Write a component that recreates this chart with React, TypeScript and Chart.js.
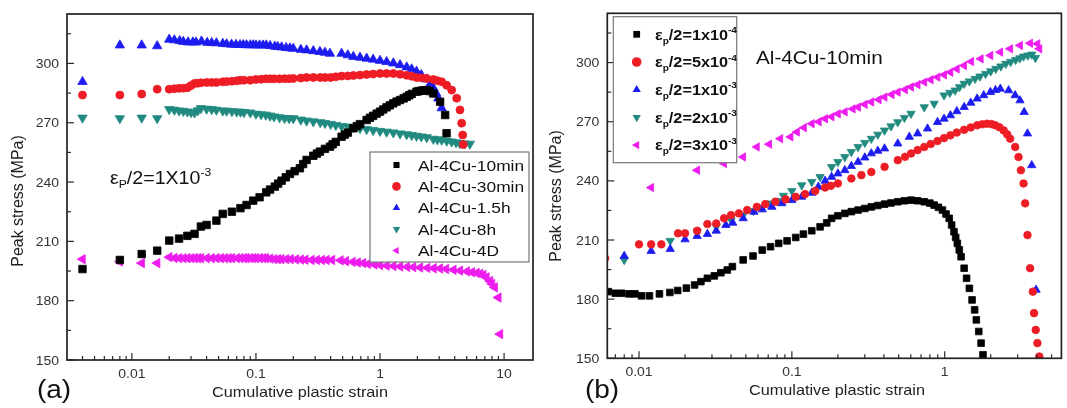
import React, { useEffect, useRef } from 'react';
import { Chart, registerables } from 'chart.js';
Chart.register(...registerables);

type Pt = [number, number];

// ---------- Panel (a): εp/2 = 1x10^-3, different ageing times ----------
const a10min: Pt[] = [
  [0.004, 196], [0.008, 200.6], [0.012, 203.6], [0.016, 205.3], [0.02, 210.4], [0.024, 211.4], [0.028, 212.8],
  [0.032, 213.8], [0.036, 217.5], [0.04, 218.3], [0.048, 220.5], [0.054, 223.9], [0.064, 225], [0.075, 226.8],
  [0.084, 228.4], [0.095, 230.6], [0.107, 232.3], [0.121, 234.8], [0.142, 237.7], [0.161, 240.7], [0.188, 244.1],
  [0.226, 247], [0.256, 251.2], [0.29, 253.3], [0.328, 255.4], [0.36, 256.8], [0.395, 257.9], [0.44, 260.3],
  [0.49, 262.9], [0.55, 265], [0.61, 267.2], [0.69, 269.3], [0.78, 271.4], [0.88, 273.5], [1.0, 275.6],
  [1.13, 277.8], [1.28, 279.8], [1.45, 281.5], [1.64, 283.1], [1.8, 284.6], [1.97, 285.7], [2.15, 286.2],
  [2.38, 286.5], [2.69, 284.8], [3.05, 280.6], [3.35, 273.9], [3.44, 264.7],
  [0.13, 236.2], [0.151, 239.2], [0.174, 242.4], [0.205, 245.5], [0.24, 249.1], [0.31, 254.4], [0.415, 259.1],
  [0.52, 264], [0.65, 268.3], [0.83, 272.5], [0.94, 274.6], [1.06, 276.7], [1.2, 278.8], [1.36, 280.7], [1.55, 282.3],
  [1.72, 283.9], [2.05, 286], [2.25, 286.4], [2.52, 286],
];
const a30min: Pt[] = [
  [0.004, 284], [0.008, 284], [0.012, 284.5], [0.016, 287], [0.02, 287], [0.024, 287.4], [0.028, 287.7],
  [0.032, 289.9], [0.036, 290.2], [0.04, 290.4], [0.048, 290.4], [0.054, 290.7], [0.064, 291], [0.075, 291.5],
  [0.09, 291.5], [0.1, 291.9], [0.12, 292.2], [0.14, 292.2], [0.17, 292.3], [0.2, 292.4], [0.256, 292.9],
  [0.33, 292.9], [0.4, 292.9], [0.49, 293.6], [0.61, 293.9], [0.78, 294.4], [1.0, 294.9], [1.28, 294.9],
  [1.64, 294], [1.97, 292.9], [2.38, 292.4], [2.69, 291.9], [3.14, 290.7], [3.44, 289], [3.78, 286.5],
  [4.15, 282.4], [4.41, 276.5], [4.55, 269.8], [4.64, 263.8], [4.69, 259],
  [0.022, 287.2], [0.026, 287.5], [0.03, 288.8], [0.034, 290], [0.044, 290.4], [0.058, 290.8], [0.07, 291.2],
  [0.08, 291.5], [0.11, 292], [0.13, 292.2], [0.155, 292.2], [0.185, 292.3], [0.23, 292.6], [0.29, 292.9],
  [0.36, 292.9], [0.44, 293.2], [0.55, 293.7], [0.69, 294.1], [0.88, 294.6], [1.13, 294.9], [1.45, 294.5],
  [1.8, 293.5], [2.15, 292.7], [2.9, 291.3],
];
const a1h5: Pt[] = [
  [0.004, 290.7], [0.008, 309.2], [0.012, 309.2], [0.016, 308.8], [0.02, 312.1], [0.0243, 311.4], [0.0284, 310.7],
  [0.0329, 310.7], [0.0364, 311.2], [0.0405, 310.5], [0.048, 310.3], [0.054, 310], [0.0636, 309.6], [0.0744, 309.4],
  [0.084, 309.3], [0.095, 309.3], [0.107, 309.2], [0.121, 309.2], [0.142, 308.6], [0.161, 308.2], [0.188, 307.7],
  [0.2, 307.5], [0.256, 306.7], [0.328, 305.9], [0.395, 305], [0.49, 305], [0.61, 303.4], [0.78, 302.5],
  [1.0, 301.4], [1.28, 300.1], [1.64, 298.1], [1.97, 295.9], [2.38, 292], [2.69, 287.5], [2.95, 282.4], [3.14, 277.4],
  [0.022, 311.8], [0.026, 311], [0.031, 310.7], [0.044, 310.4], [0.058, 309.8], [0.069, 309.5], [0.079, 309.4],
  [0.09, 309.3], [0.1, 309.2], [0.114, 309.2], [0.13, 308.9], [0.15, 308.4], [0.175, 307.9], [0.23, 307],
  [0.29, 306.3], [0.36, 305.5], [0.55, 304.2], [0.69, 303], [0.88, 302], [1.13, 300.8], [1.45, 299.2],
  [1.8, 297.1], [2.15, 294.2], [2.55, 289.8], [2.83, 285],
];
const a8h: Pt[] = [
  [0.004, 272.5], [0.008, 272.2], [0.012, 272.5], [0.016, 272.2], [0.02, 276.8], [0.024, 276.1], [0.028, 275.6],
  [0.032, 275.1], [0.036, 277.3], [0.04, 277], [0.048, 276.5], [0.054, 276.1], [0.064, 275.8], [0.075, 275.5],
  [0.09, 275.1], [0.1, 274.5], [0.12, 274], [0.14, 273.1], [0.17, 272.3], [0.2, 272.2], [0.256, 271], [0.33, 270.2],
  [0.4, 269.3], [0.49, 268.3], [0.61, 267.7], [0.78, 266.7], [1.0, 265.8], [1.28, 265], [1.64, 264.1], [1.97, 263.3],
  [2.38, 262.6], [2.69, 261.8], [3.14, 261.3], [3.78, 260.4], [4.4, 259.6], [5.3, 259.3],
  [0.022, 276.5], [0.026, 275.9], [0.03, 275.3], [0.034, 276.2], [0.044, 276.8], [0.058, 276], [0.07, 275.6],
  [0.08, 275.3], [0.11, 274.2], [0.13, 273.5], [0.155, 272.7], [0.185, 272.2], [0.23, 271.5], [0.29, 270.6],
  [0.36, 269.8], [0.44, 268.8], [0.55, 268], [0.69, 267.2], [0.88, 266.2], [1.13, 265.4], [1.45, 264.5],
  [1.8, 263.7], [2.15, 263], [2.9, 261.5], [3.45, 260.8], [4.1, 260], [4.8, 259.4],
];
const a4D: Pt[] = [
  [0.004, 201], [0.008, 199.8], [0.012, 199], [0.016, 199], [0.02, 202], [0.022, 201.6], [0.024, 201.5],
  [0.026, 201.5], [0.028, 201.5], [0.03, 201.5], [0.032, 201.5], [0.034, 201.5], [0.036, 201.5], [0.04, 201.5],
  [0.044, 201.5], [0.048, 201.5], [0.052, 201.5], [0.056, 201.5], [0.06, 201.5], [0.064, 201.5], [0.07, 201.5],
  [0.075, 201.5], [0.08, 201.5], [0.084, 201.5], [0.09, 201.5], [0.095, 201.5], [0.1, 201.5], [0.107, 201.5],
  [0.114, 201.5], [0.12, 201.5], [0.13, 201.3], [0.14, 201], [0.15, 201], [0.16, 201], [0.175, 201], [0.19, 201],
  [0.21, 200.9], [0.23, 200.8], [0.25, 200.7], [0.28, 200.6], [0.31, 200.6], [0.34, 200.6], [0.37, 200.6],
  [0.41, 200.6], [0.48, 200.4], [0.53, 200], [0.6, 199.6], [0.66, 199.3], [0.73, 199], [0.8, 198.6], [0.9, 198.3],
  [1.0, 198], [1.13, 197.7], [1.28, 197.5], [1.45, 197.3], [1.65, 197.1], [1.85, 197], [2.1, 196.8], [2.4, 196.6],
  [2.7, 196.4], [3.04, 196.3], [3.4, 196], [3.9, 195.6], [4.4, 195.2], [5.0, 194.8], [5.5, 194.4], [6.0, 194],
  [6.4, 193.6], [6.8, 193], [7.2, 191.8], [7.7, 190], [8.0, 188.5], [8.4, 186.7], [8.99, 181.6], [9.27, 163.1],
];

// ---------- Panel (b): Al-4Cu-10min, different strain amplitudes ----------
const b1e4: Pt[] = [
  [0.0063, 183.8], [0.007, 183], [0.0077, 183], [0.0086, 182.7], [0.0094, 182.7], [0.0104, 181.7], [0.0117, 181.7],
  [0.0136, 182.7], [0.0159, 183.4], [0.0179, 184.4], [0.0204, 185.6], [0.0231, 187.2], [0.0254, 188.9], [0.028, 190.6],
  [0.0311, 191.8], [0.0343, 193.4], [0.0378, 194.8], [0.0408, 196.5], [0.048, 199.9], [0.0557, 201.9], [0.064, 204.9],
  [0.0725, 206.6], [0.082, 208.3], [0.093, 209.6], [0.106, 211.3], [0.119, 213], [0.135, 214.7], [0.153, 216.7],
  [0.169, 218.7], [0.182, 221], [0.222, 223.5], [0.271, 225.2], [0.331, 226.8], [0.404, 228.2], [0.493, 229.4],
  [0.602, 230.2], [0.735, 229.4], [0.853, 227.7], [0.966, 225.2], [1.07, 221], [1.15, 214.2], [1.21, 208.3],
  [1.28, 201.5], [1.34, 195.7], [1.39, 190.6], [1.45, 185.5], [1.51, 179.6], [1.57, 174.6], [1.61, 169.5],
  [1.67, 163.6], [1.73, 157.7], [1.78, 151.8],
  [0.2, 222.3], [0.245, 224.4], [0.3, 226], [0.365, 227.5], [0.445, 228.8], [0.545, 229.9], [0.665, 229.9],
  [0.8, 228.7], [0.91, 226.6], [1.02, 223.2], [1.11, 217.6], [1.18, 211.3], [1.245, 205],
];
const b5e4: Pt[] = [
  [0.006, 200.7], [0.01, 207.8], [0.012, 207.8], [0.014, 207.8], [0.018, 213.4], [0.02, 213.4], [0.024, 214.7],
  [0.028, 218.1], [0.032, 218.4], [0.036, 221], [0.04, 222.6], [0.045, 223.5], [0.051, 225.2], [0.059, 226.8],
  [0.067, 228.2], [0.078, 229.4], [0.091, 230.6], [0.106, 231.9], [0.122, 233.3], [0.142, 234.9], [0.165, 236.6],
  [0.18, 237.5], [0.2, 238.7], [0.245, 241.2], [0.285, 242.9], [0.331, 244.5], [0.404, 247.1], [0.493, 250.5],
  [0.602, 253.9], [0.735, 257.2], [0.897, 260.2], [1.09, 263.1], [1.34, 265.9], [1.63, 268.2], [1.89, 269],
  [2.14, 268.2], [2.43, 265.6], [2.68, 261.4], [2.89, 257.2], [3.04, 252.1], [3.15, 245.4], [3.28, 238.7],
  [3.36, 228.6], [3.48, 212.5], [3.62, 195.7], [3.77, 183.8], [3.84, 172.9], [3.94, 164.4], [4.04, 157.7], [4.16, 150.9],
  [0.55, 252.2], [0.665, 255.6], [0.81, 258.7], [0.99, 261.7], [1.2, 264.5], [1.48, 267.1], [1.76, 268.7],
  [2.02, 268.8], [2.28, 267.2], [2.56, 263.6],
];
const b1e3: Pt[] = [
  [0.008, 201.9], [0.012, 204.4], [0.016, 205.4], [0.02, 210.3], [0.024, 212], [0.028, 213], [0.032, 214.7],
  [0.037, 217.6], [0.041, 218.7], [0.048, 221], [0.0565, 224.3], [0.064, 225.5], [0.074, 226.8], [0.086, 228.6],
  [0.1, 230.2], [0.116, 231.9], [0.135, 233.9], [0.149, 237], [0.182, 242], [0.222, 245.4], [0.271, 249.6],
  [0.331, 253.9], [0.404, 256.4], [0.493, 258.9], [0.587, 262.3], [0.665, 264], [0.772, 266.5], [0.897, 269.8],
  [1.09, 273.2], [1.34, 277.4], [1.63, 281.7], [1.99, 285], [2.31, 286.7], [2.62, 285.9], [2.89, 283.4],
  [3.11, 280.8], [3.31, 274.9], [3.48, 264], [3.71, 247.9], [3.96, 184.7],
  [0.165, 240], [0.2, 243.7], [0.245, 247.5], [0.3, 251.8], [0.365, 255.2], [0.99, 271.5], [1.2, 275.3],
  [1.48, 279.6], [1.8, 283.4], [2.15, 286],
];
const b2e3: Pt[] = [
  [0.008, 199.9], [0.016, 209.6], [0.024, 214.2], [0.032, 216.7], [0.04, 220.1], [0.048, 222.6], [0.056, 224.8],
  [0.064, 226.5], [0.072, 228.6], [0.08, 229.9], [0.088, 232.5], [0.1, 234.9], [0.116, 237.8], [0.135, 239.5],
  [0.153, 242], [0.182, 247.1], [0.222, 252.1], [0.271, 257.2], [0.331, 261.4], [0.404, 265.6], [0.493, 269.8],
  [0.602, 274.1], [0.735, 277.4], [0.853, 279.2], [0.99, 283.4], [1.17, 285.9], [1.34, 289.3], [1.58, 291.8],
  [1.85, 294.3], [2.16, 296.9], [2.51, 299.4], [2.91, 301.4], [3.28, 303.1], [3.71, 304.1], [3.92, 302.4],
  [0.2, 249.6], [0.245, 254.7], [0.3, 259.3], [0.365, 263.5], [0.445, 267.7], [0.545, 272], [1.08, 284.7],
  [1.25, 287.6], [1.45, 290.5], [1.7, 293], [2.0, 295.6], [2.33, 298.1], [2.7, 300.4], [3.1, 302.2], [3.5, 303.6],
];
const b3e3: Pt[] = [
  [0.012, 236.6], [0.024, 245.4], [0.036, 248.8], [0.048, 252.1], [0.059, 257.2], [0.071, 258.6], [0.084, 261.4],
  [0.098, 262.3], [0.108, 264.8], [0.12, 267], [0.135, 269], [0.15, 270], [0.165, 271.5], [0.182, 272.5], [0.2, 274],
  [0.222, 275], [0.25, 276.5], [0.271, 277.4], [0.3, 278.8], [0.331, 280], [0.37, 281.2], [0.404, 282.5],
  [0.45, 283.8], [0.493, 285], [0.55, 286.3], [0.602, 287.6], [0.665, 288.8], [0.735, 290.1], [0.81, 291.3],
  [0.897, 292.6], [0.99, 293.8], [1.09, 295.1], [1.2, 296.8], [1.34, 298.5], [1.49, 300.5], [1.72, 301.9],
  [1.99, 303.6], [2.31, 305.3], [2.68, 307], [3.11, 308.7], [3.62, 309.8], [4.04, 309.5], [4.16, 307],
];

const aLabels = ['Al-4Cu-10min', 'Al-4Cu-30min', 'Al-4Cu-1.5h', 'Al-4Cu-8h', 'Al-4Cu-4D'];
const bAmplitudes = ['1x10', '5x10', '1x10', '2x10', '3x10'];
const bExponents = ['-4', '-4', '-3', '-3', '-3'];

// ticks
const yMajor = [150, 180, 210, 240, 270, 300];
const yMinor = [165, 195, 225, 255, 285, 315];
const xMajor = [0.01, 0.1, 1, 10];
const xMajorLabels = ['0.01', '0.1', '1', '10'];
const decades = [0.001, 0.01, 0.1, 1, 10];
const minorFactors = [2, 3, 4, 5, 6, 7, 8, 9];

const COLORS = ['#000000', '#ee1c24', '#1c1cf0', '#218a80', '#ee1cee'];
const STYLES = ['rect', 'circle', 'triangle', 'triangle', 'triangle'];
const ROTS = [0, 0, 0, 180, 270];

const FONT = '"Liberation Sans", Arial, Helvetica, sans-serif';
const STRETCH = 1.12;

type Part = { t: string; k?: 'sub' | 'sup' };

function drawParts(ctx: CanvasRenderingContext2D, parts: Part[], x: number, y: number, size: number, weight: string, align: 'left' | 'center' | 'right', color = '#111') {
  ctx.save();
  ctx.translate(x, y);
  ctx.scale(STRETCH, 1);
  ctx.fillStyle = color;
  ctx.textBaseline = 'alphabetic';
  ctx.textAlign = 'left';
  const fonts = parts.map((p) => `${weight} ${p.k ? size * 0.62 : size}px ${FONT}`);
  const widths = parts.map((p, i) => { ctx.font = fonts[i]; return ctx.measureText(p.t).width; });
  const total = widths.reduce((s, w) => s + w, 0);
  let cx = align === 'center' ? -total / 2 : align === 'right' ? -total : 0;
  parts.forEach((p, i) => {
    ctx.font = fonts[i];
    const dy = p.k === 'sub' ? size * 0.28 : p.k === 'sup' ? -size * 0.45 : 0;
    ctx.fillText(p.t, cx, dy);
    cx += widths[i];
  });
  ctx.restore();
}

function drawMarker(ctx: CanvasRenderingContext2D, style: string, rot: number, x: number, y: number, r: number, color: string) {
  ctx.save();
  ctx.fillStyle = color;
  ctx.beginPath();
  if (style === 'rect') {
    const s = r * Math.SQRT1_2;
    ctx.rect(x - s, y - s, 2 * s, 2 * s);
  } else if (style === 'circle') {
    ctx.arc(x, y, r, 0, Math.PI * 2);
  } else {
    let a = (rot * Math.PI) / 180;
    ctx.moveTo(x + Math.sin(a) * r, y - Math.cos(a) * r);
    for (let i = 0; i < 2; i++) {
      a += (2 * Math.PI) / 3;
      ctx.lineTo(x + Math.sin(a) * r, y - Math.cos(a) * r);
    }
    ctx.closePath();
  }
  ctx.fill();
  ctx.restore();
}

interface PanelCfg {
  xMin: number; xMax: number;
  pad: { left: number; right: number; top: number; bottom: number };
  panelLabel: string; panelLabelX: number;
  yTitleX: number; yTitleY: number; xTitleX: number;
  legendBox: [number, number, number, number];
  legendMarkerX: number; legendTextX: number; legendRowY: number; legendRowDy: number; legendMarkerR: number;
  legendRows: Part[][]; legendSize: number; legendWeight: string;
  note: Part[]; noteX: number; noteY: number; noteSize: number;
}

function makePlugin(cfg: PanelCfg) {
  return {
    id: 'panelDecor',
    afterDraw(chart: any) {
      const ctx: CanvasRenderingContext2D = chart.ctx;
      const { left, right, top, bottom } = chart.chartArea;
      const xs = chart.scales.x;
      const ys = chart.scales.y;
      ctx.save();
      // ticks (inward)
      ctx.strokeStyle = '#2a2a2a';
      ctx.lineWidth = 1.2;
      const minors: number[] = [];
      decades.forEach((d) => minorFactors.forEach((f) => minors.push(d * f)));
      minors.filter((v) => v > cfg.xMin && v < cfg.xMax).forEach((v) => {
        const px = xs.getPixelForValue(v);
        ctx.beginPath(); ctx.moveTo(px, bottom); ctx.lineTo(px, bottom - 4); ctx.stroke();
      });
      xMajor.filter((v) => v > cfg.xMin && v < cfg.xMax).forEach((v) => {
        const px = xs.getPixelForValue(v);
        ctx.beginPath(); ctx.moveTo(px, bottom); ctx.lineTo(px, bottom - 7); ctx.stroke();
      });
      yMinor.forEach((v) => {
        const py = ys.getPixelForValue(v);
        ctx.beginPath(); ctx.moveTo(left, py); ctx.lineTo(left + 4, py); ctx.stroke();
      });
      yMajor.forEach((v) => {
        const py = ys.getPixelForValue(v);
        ctx.beginPath(); ctx.moveTo(left, py); ctx.lineTo(left + 7, py); ctx.stroke();
      });
      // frame
      ctx.lineWidth = 1.7;
      ctx.strokeStyle = '#222';
      ctx.strokeRect(left, top, right - left, bottom - top);
      // tick labels
      xMajor.forEach((v, i) => {
        if (v < cfg.xMin || v > cfg.xMax) return;
        drawParts(ctx, [{ t: xMajorLabels[i] }], xs.getPixelForValue(v), bottom + 18, 12.5, 'normal', 'center', '#333');
      });
      yMajor.forEach((v) => {
        drawParts(ctx, [{ t: String(v) }], left - 8, ys.getPixelForValue(v) + 4.5, 12.5, 'normal', 'right', '#333');
      });
      // axis titles
      drawParts(ctx, [{ t: 'Cumulative plastic strain' }], cfg.xTitleX, bottom + 37, 14.5, 'normal', 'center', '#222');
      ctx.save();
      ctx.translate(cfg.yTitleX, cfg.yTitleY);
      ctx.rotate(-Math.PI / 2);
      ctx.font = `normal 16px ${FONT}`;
      ctx.fillStyle = '#222';
      ctx.textAlign = 'center';
      ctx.textBaseline = 'middle';
      ctx.fillText('Peak stress (MPa)', 0, 0);
      ctx.restore();
      // panel label
      drawParts(ctx, [{ t: cfg.panelLabel }], cfg.panelLabelX, 398, 25, 'normal', 'center', '#111');
      // note
      drawParts(ctx, cfg.note, cfg.noteX, cfg.noteY, cfg.noteSize, 'normal', 'left', '#111');
      // legend
      const [bx0, by0, bx1, by1] = cfg.legendBox;
      ctx.fillStyle = '#fff';
      ctx.fillRect(bx0, by0, bx1 - bx0, by1 - by0);
      ctx.strokeStyle = '#777';
      ctx.lineWidth = 1.2;
      ctx.strokeRect(bx0, by0, bx1 - bx0, by1 - by0);
      chart.data.datasets.forEach((ds: any, i: number) => {
        const y = cfg.legendRowY + i * cfg.legendRowDy;
        drawMarker(ctx, ds.pointStyle, ds.pointRotation || 0, cfg.legendMarkerX, y, cfg.legendMarkerR, ds.backgroundColor);
        drawParts(ctx, cfg.legendRows[i], cfg.legendTextX, y + cfg.legendSize * 0.36, cfg.legendSize, cfg.legendWeight, 'left', '#111');
      });
      ctx.restore();
    },
  };
}

function makeDatasets(series: Pt[][], labels: string[], sizes: number[]) {
  return series.map((s, i) => ({
    label: labels[i],
    data: s.map(([x, y]) => ({ x, y })),
    pointStyle: STYLES[i],
    pointRotation: ROTS[i],
    pointRadius: sizes[i],
    backgroundColor: COLORS[i],
    borderColor: COLORS[i],
    borderWidth: 0.8,
    showLine: false,
    clip: 0,
  }));
}

function Panel({ series, labels, sizes, cfg, width, leftPos }: { series: Pt[][]; labels: string[]; sizes: number[]; cfg: PanelCfg; width: number; leftPos: number }) {
  const ref = useRef<HTMLCanvasElement>(null);
  useEffect(() => {
    if (!ref.current) return;
    const chart = new Chart(ref.current, {
      type: 'scatter',
      data: { datasets: makeDatasets(series, labels, sizes) as any },
      options: {
        animation: false,
        responsive: false,
        devicePixelRatio: 1,
        events: [],
        layout: { padding: cfg.pad },
        plugins: { legend: { display: false }, tooltip: { enabled: false } },
        scales: {
          x: { type: 'logarithmic', min: cfg.xMin, max: cfg.xMax, display: false },
          y: { type: 'linear', min: 150, max: 325, display: false },
        },
      },
      plugins: [makePlugin(cfg)],
    });
    return () => chart.destroy();
  }, []);
  return (
    <canvas ref={ref} width={width} height={408} style={{ position: 'absolute', left: leftPos, top: 0, width, height: 408 }} />
  );
}

const cfgA: PanelCfg = {
  xMin: 0.003, xMax: 17.1,
  pad: { left: 67, right: 7, top: 14, bottom: 48 },
  panelLabel: '(a)', panelLabelX: 54,
  yTitleX: 19, yTitleY: 201, xTitleX: 300,
  legendBox: [370, 152, 529, 262],
  legendMarkerX: 396.5, legendTextX: 418, legendRowY: 165, legendRowDy: 21.4, legendMarkerR: 4.3,
  legendRows: aLabels.map((t) => [{ t }]), legendSize: 15.5, legendWeight: 'normal',
  note: [{ t: 'ε' }, { t: 'P', k: 'sub' }, { t: '/2=1X10' }, { t: '-3', k: 'sup' }],
  noteX: 110, noteY: 183.5, noteSize: 17.5,
};

const cfgB: PanelCfg = {
  xMin: 0.0062, xMax: 5.8,
  pad: { left: 67.3, right: 2, top: 13.3, bottom: 49.7 },
  panelLabel: '(b)', panelLabelX: 62,
  yTitleX: 17, yTitleY: 196, xTitleX: 297,
  legendBox: [73.3, 16.7, 196.7, 162.7],
  legendMarkerX: 96.7, legendTextX: 115, legendRowY: 34.3, legendRowDy: 27.7, legendMarkerR: 4.8,
  legendRows: bAmplitudes.map((a, i) => [{ t: 'ε' }, { t: 'p', k: 'sub' as const }, { t: '/2=' + a }, { t: bExponents[i], k: 'sup' as const }]),
  legendSize: 14.5, legendWeight: 'bold',
  note: [{ t: 'Al-4Cu-10min' }], noteX: 216, noteY: 63.5, noteSize: 18.5,
};

export default function App() {
  useEffect(() => {
    document.body.style.margin = '0';
    document.body.style.background = '#fff';
  }, []);
  return (
    <div style={{ position: 'absolute', left: 0, top: 0, width: 1067, height: 408, background: '#fff', overflow: 'hidden' }}>
      <Panel series={[a10min, a30min, a1h5, a8h, a4D]} labels={aLabels} sizes={[5.3, 4, 5.4, 5.4, 5.4]} cfg={cfgA} width={540} leftPos={0} />
      <Panel series={[b1e4, b5e4, b1e3, b2e3, b3e3]} labels={bAmplitudes} sizes={[4.7, 3.8, 4.8, 4.8, 4.8]} cfg={cfgB} width={527} leftPos={540} />
    </div>
  );
}
